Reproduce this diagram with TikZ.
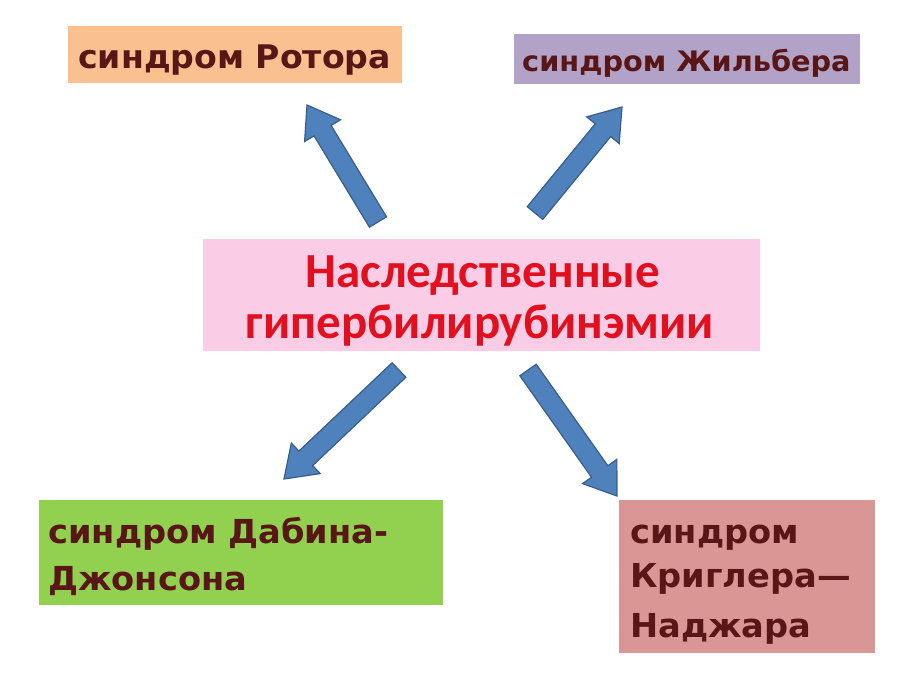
\documentclass[tikz,border=0pt]{standalone}
\usepackage{fontspec}
\usetikzlibrary{calc}
\newfontfamily\boxfont[FakeStretch=1.02]{DejaVu Sans}
\newfontfamily\centerfont{Carlito}
\definecolor{peach}{RGB}{250,192,144}
\definecolor{lavender}{RGB}{179,162,199}
\definecolor{pinkbox}{RGB}{250,204,230}
\definecolor{greenbox}{RGB}{146,208,80}
\definecolor{rosebox}{RGB}{217,150,148}
\definecolor{arrfill}{RGB}{79,129,189}
\definecolor{arrline}{RGB}{56,93,138}
\definecolor{maroon}{RGB}{88,22,22}
\definecolor{redtext}{RGB}{226,16,30}
\newcommand{\blockarrow}[2]{%
  \path ($(#2)!30pt!(#1)$) coordinate (hb);
  \draw[arr] ($(#1)!10pt!90:(#2)$) -- ($(hb)!10pt!90:(#2)$) -- ($(hb)!21pt!90:(#2)$)
    -- (#2) -- ($(hb)!21pt!-90:(#2)$) -- ($(hb)!10pt!-90:(#2)$) -- ($(#1)!10pt!-90:(#2)$) -- cycle;}
\tikzset{
  box/.style={rectangle, draw=none, inner sep=0pt},
  lbl/.style={inner sep=0pt, anchor=base west, text=maroon, font=\boxfont\bfseries\fontsize{33}{38}\selectfont},
  ctext/.style={inner sep=0pt, anchor=base, text=redtext, font=\centerfont\bfseries\fontsize{49}{56}\selectfont},
  arr/.style={fill=arrfill, draw=arrline, line width=1.2pt, line join=miter}
}
\begin{document}
\begin{tikzpicture}[x=1pt,y=-1pt]
\useasboundingbox (0,0) rectangle (900,676);
\fill[white] (0,0) rectangle (900,676);
% boxes
\node[box, fill=peach, minimum width=334pt, minimum height=57pt] (rotor) at (235,54.5) {};
\node[box, fill=lavender, minimum width=346pt, minimum height=50pt] (zhil) at (687,59) {};
\node[box, fill=pinkbox, minimum width=557pt, minimum height=112pt] (center) at (481.5,295) {};
\node[box, fill=greenbox, minimum width=404pt, minimum height=105pt] (dabin) at (241,552.5) {};
\node[box, fill=rosebox, minimum width=256pt, minimum height=153pt] (krig) at (747,576.5) {};
% texts
\node[lbl, font=\boxfont\bfseries\fontsize{32.5}{38}\selectfont] (rotorT) at (78,69) {синдром Ротора};
\node[lbl, font=\boxfont\bfseries\fontsize{28.2}{34}\selectfont] (zhilT) at (522,72) {синдром Жильбера};
\node[ctext] (c1) at (483,288) {Наследственные};
\node[ctext] (c2) at (480,339) {гипербилирубинэмии};
\node[lbl] (dab1) at (48,543) {синдром Дабина-};
\node[lbl] (dab2) at (48,590) {Джонсона};
\node[lbl] (kr1) at (630,543) {синдром};
\node[lbl] (kr2) at (630,587) {Криглера—};
\node[lbl] (kr3) at (630,637) {Наджара};
% arrow ends
\coordinate (a1t) at (378,222); \coordinate (a1h) at (307,105);
\coordinate (a2t) at (535,213); \coordinate (a2h) at (622,107);
\coordinate (a3t) at (399,370); \coordinate (a3h) at (284,479);
\coordinate (a4t) at (528,370); \coordinate (a4h) at (617,496);
\blockarrow{a1t}{a1h}
\blockarrow{a2t}{a2h}
\blockarrow{a3t}{a3h}
\blockarrow{a4t}{a4h}
\end{tikzpicture}
\end{document}
